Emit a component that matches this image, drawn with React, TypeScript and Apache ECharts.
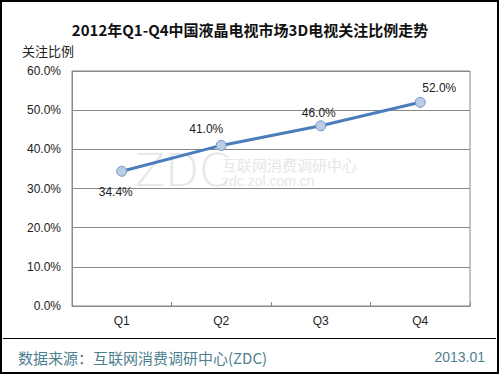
import React, { useEffect, useRef } from "react";
import * as echarts from "echarts";

const categories = ["Q1", "Q2", "Q3", "Q4"];
const values = [34.4, 41.0, 46.0, 52.0];
const yTicks = { min: 0, max: 60, interval: 10 };
const titleText = "2012年Q1-Q4中国液晶电视市场3D电视关注比例走势";
const yName = "关注比例";
const sourceText = "数据来源：互联网消费调研中心(ZDC)";
const dateText = "2013.01";

const labelOffsets: [number, number][] = [
  [-6, 21],
  [-15, -16],
  [-2, -13],
  [19, -14],
];

export default function App() {
  const ref = useRef<HTMLDivElement>(null);
  useEffect(() => {
    if (!ref.current) return;
    const chart = echarts.init(ref.current, null, { renderer: "svg" });
    const font = "'Liberation Sans', 'Noto Sans CJK SC', sans-serif";
    chart.setOption({
      animation: false,
      backgroundColor: "#ffffff",
      title: {
        text: titleText,
        left: "center",
        top: 17,
        textStyle: { fontSize: 15, fontWeight: "bold", color: "#111", fontFamily: "'Noto Sans CJK SC', sans-serif" },
      },
      grid: {
        left: 72,
        right: 30,
        top: 71,
        bottom: 69,
        show: true,
        borderColor: "#888888",
        borderWidth: 1,
      },
      xAxis: {
        type: "category",
        data: categories,
        boundaryGap: true,
        axisLine: { show: true, lineStyle: { color: "#888888" } },
        axisTick: { show: true, inside: true, length: 4, lineStyle: { color: "#888888" } },
        axisLabel: { color: "#222", fontSize: 12, margin: 9, fontFamily: font },
      },
      yAxis: {
        type: "value",
        min: yTicks.min,
        max: yTicks.max,
        interval: yTicks.interval,
        name: yName,
        nameLocation: "end",
        nameGap: 14,
        nameTextStyle: { color: "#222", fontSize: 13, align: "right", padding: [0, -2, 0, 0], fontFamily: "'Noto Sans CJK SC', sans-serif" },
        axisLine: { show: true, lineStyle: { color: "#888888" } },
        axisTick: { show: false },
        axisLabel: {
          color: "#222",
          fontSize: 12,
          margin: 11,
          fontFamily: font,
          formatter: (v: number) => v.toFixed(1) + "%",
        },
        splitLine: { show: true, lineStyle: { color: "#888888", width: 1 } },
      },
      series: [
        {
          type: "line",
          data: values.map((v, i) => ({
            value: v,
            label: { offset: labelOffsets[i] },
          })),
          z: 5,
          lineStyle: { color: "#4a7ebb", width: 3 },
          symbol: "circle",
          symbolSize: 10,
          itemStyle: { color: "#b9cde5", borderColor: "#6f95c6", borderWidth: 1 },
          label: {
            show: true,
            position: "inside",
            color: "#222",
            fontSize: 12,
            fontFamily: font,
            formatter: (p: any) => p.value.toFixed(1) + "%",
          },
        },
      ],
      graphic: [
        {
          type: "rect",
          z: 100,
          shape: { x: 1, y: 1, width: 497, height: 372 },
          style: { fill: "none", stroke: "#000", lineWidth: 2 },
        },
        {
          type: "line",
          z: 100,
          shape: { x1: 3, y1: 338.5, x2: 496, y2: 338.5 },
          style: { stroke: "#000", lineWidth: 1 },
        },
        {
          type: "text",
          z: 100,
          x: 18,
          y: 357,
          style: {
            text: sourceText,
            fill: "#4e7f90",
            fontSize: 15,
            fontFamily: "'Noto Sans CJK SC', sans-serif",
            verticalAlign: "middle",
          },
        },
        {
          type: "text",
          z: 100,
          x: 485,
          y: 357,
          style: {
            text: dateText,
            fill: "#4e7f90",
            fontSize: 14,
            fontFamily: font,
            align: "right",
            verticalAlign: "middle",
          },
        },
        {
          type: "text",
          z: 1,
          x: 135,
          y: 170,
          style: {
            text: "ZDC",
            fill: "#e6e6e6",
            fontSize: 44,
            fontFamily: "'DejaVu Sans', sans-serif",
            fontWeight: "lighter",
            verticalAlign: "middle",
          },
        },
        {
          type: "text",
          z: 1,
          x: 222,
          y: 164,
          style: {
            text: "互联网消费调研中心",
            fill: "#e6e6e6",
            fontSize: 15,
            fontFamily: "'Noto Sans CJK SC', sans-serif",
            verticalAlign: "middle",
          },
        },
        {
          type: "text",
          z: 1,
          x: 222,
          y: 181,
          style: {
            text: "zdc.zol.com.cn",
            fill: "#e6e6e6",
            fontSize: 14,
            fontFamily: font,
            verticalAlign: "middle",
          },
        },
      ],
    });
    return () => chart.dispose();
  }, []);
  return (
    <div
      ref={ref}
      style={{ position: "fixed", left: 0, top: 0, width: 500, height: 375 }}
    />
  );
}
